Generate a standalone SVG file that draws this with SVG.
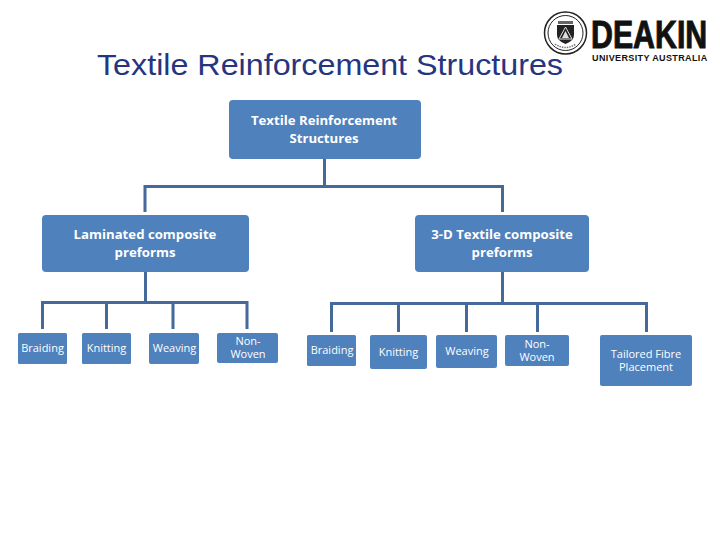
<svg xmlns="http://www.w3.org/2000/svg" width="720" height="540" viewBox="0 0 720 540">
<style>
.n{fill:#4f81bd}
.c{fill:none;stroke:#44699a;stroke-width:3}
text{font-family:"Open Sans","Liberation Sans",sans-serif;fill:#fff;text-anchor:middle}
.b{font-size:13.200px;font-weight:700}
.l{font-size:11px}
.t{font-family:"Liberation Sans",Arial,sans-serif;font-size:30px;fill:#25357f;text-anchor:start}
.k{font-family:"Liberation Sans",Arial,sans-serif;fill:#111;font-weight:700;text-anchor:start}
</style>
<rect width="720" height="540" fill="#fff"/>
<text class="t" x="97" y="75" textLength="466" lengthAdjust="spacingAndGlyphs">Textile Reinforcement Structures</text>
<g id="logo">
<circle cx="565.500" cy="33" r="21" fill="#fff" stroke="#222" stroke-width="1.500"/>
<circle cx="565.500" cy="33" r="17.500" fill="#fff" stroke="#222" stroke-width="1"/>
<path d="M558 21H573V24H558Z" fill="#666"/>
<path d="M557 25H574V35Q574 41 565.500 44Q557 41 557 35Z" fill="#222"/>
<path d="M565.500 27L559 39H572Z" fill="none" stroke="#ddd" stroke-width="1"/>
<path d="M565.500 31L562 38H569Z" fill="#ddd"/>
<path d="M555 44Q565.500 51 576 44" fill="none" stroke="#777" stroke-width="1.500" stroke-dasharray="1.500 1"/>
<text class="k" transform="translate(591 47.500) scale(.78 1)" font-size="38" stroke="#111" stroke-width="1" textLength="149" lengthAdjust="spacingAndGlyphs">DEAKIN</text>
<text class="k" x="592" y="61" font-size="9" letter-spacing=".8" textLength="116" lengthAdjust="spacing">UNIVERSITY AUSTRALIA</text>
</g>
<g id="connectors">
<path class="c" d="M324.500 159V186.500M145 212V186.500H502.500V212"/>
<path class="c" d="M145.500 272V302.500M42.500 329V302.500H247V329M106.500 302.500V329M173 302.500V329"/>
<path class="c" d="M502.500 272V303.500M331.500 332V303.500H646.500V332M398.500 303.500V332M466.500 303.500V332M537.500 303.500V332"/>
</g>
<g id="root"><rect class="n" x="229" y="100" width="192" height="59" rx="4"/><text class="b" x="324" y="125">Textile Reinforcement<tspan x="324" dy="18">Structures</tspan></text></g>
<g id="laminated"><rect class="n" x="42" y="215" width="207" height="57" rx="4"/><text class="b" x="145" y="239">Laminated composite<tspan x="145" dy="18">preforms</tspan></text></g>
<g id="textile3d"><rect class="n" x="415" y="215" width="174" height="57" rx="4"/><text class="b" x="502" y="239">3-D Textile composite<tspan x="502" dy="18">preforms</tspan></text></g>
<g id="l-braiding"><rect class="n" x="18" y="333" width="49" height="31" rx="1.500"/><text class="l" x="42.500" y="352">Braiding</text></g>
<g id="l-knitting"><rect class="n" x="82" y="333" width="49" height="31" rx="1.500"/><text class="l" x="106.500" y="352">Knitting</text></g>
<g id="l-weaving"><rect class="n" x="149" y="333" width="50" height="31" rx="2"/><text class="l" x="174.500" y="352">Weaving</text></g>
<g id="l-nonwoven"><rect class="n" x="217" y="333" width="61" height="30" rx="2"/><text class="l" x="248" y="345">Non-<tspan x="248" dy="13">Woven</tspan></text></g>
<g id="d-braiding"><rect class="n" x="307" y="335" width="49" height="31" rx="1.500"/><text class="l" x="332" y="354">Braiding</text></g>
<g id="d-knitting"><rect class="n" x="370" y="335" width="57" height="34" rx="2"/><text class="l" x="398.500" y="356">Knitting</text></g>
<g id="d-weaving"><rect class="n" x="436" y="335" width="61" height="33" rx="2"/><text class="l" x="467" y="355">Weaving</text></g>
<g id="d-nonwoven"><rect class="n" x="505" y="335" width="64" height="31" rx="2"/><text class="l" x="537" y="348">Non-<tspan x="537" dy="13">Woven</tspan></text></g>
<g id="d-tailored"><rect class="n" x="600" y="335" width="92" height="51" rx="2"/><text class="l" x="646" y="358">Tailored Fibre<tspan x="646" dy="13">Placement</tspan></text></g>
</svg>
